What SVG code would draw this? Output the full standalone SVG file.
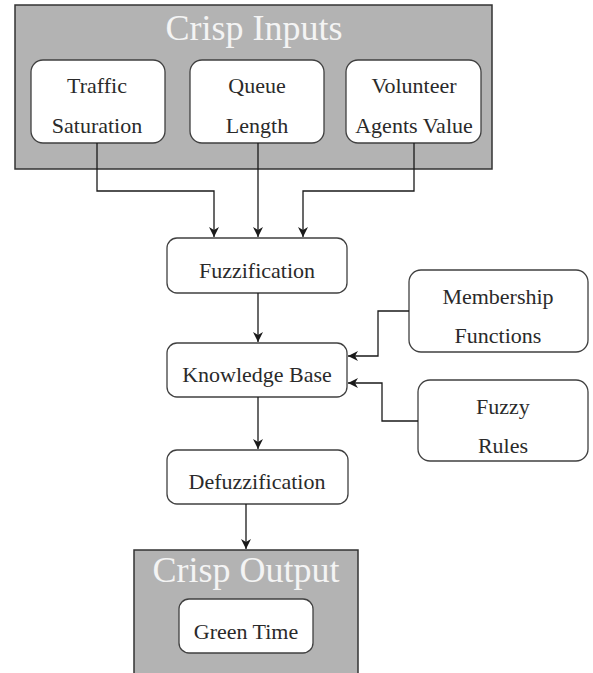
<svg xmlns="http://www.w3.org/2000/svg" width="593" height="673" viewBox="0 0 593 673">
<defs>
<style>
.bg{fill:#ffffff}
.cont{fill:#b3b3b3;stroke:#333333;stroke-width:1.5}
.box{fill:#ffffff;stroke:#404040;stroke-width:1.3}
.t{font-family:'Liberation Serif','DejaVu Serif',serif;font-size:22px;fill:#2a2a2a;text-anchor:middle}
.title{font-family:'Liberation Serif','DejaVu Serif',serif;font-size:36px;fill:#f4f4f4;text-anchor:middle}
.c{fill:none;stroke:#1a1a1a;stroke-width:1.3}
</style>
<marker id="arr" viewBox="0 0 10 10" refX="10" refY="5" markerWidth="10" markerHeight="10" markerUnits="userSpaceOnUse" orient="auto">
<path d="M0,0 L10,5 L0,10 L3,5 Z" fill="#1a1a1a"/>
</marker>
</defs>
<rect class="bg" x="0" y="0" width="593" height="673"/>
<g id="crisp-inputs">
<rect class="cont" x="15" y="5" width="477" height="164"/>
<text class="title" x="254" y="40">Crisp Inputs</text>
</g>
<g id="traffic-saturation">
<rect class="box" x="31" y="60" width="134" height="83" rx="12"/>
<text class="t" x="97" y="93">Traffic</text>
<text class="t" x="97" y="133">Saturation</text>
</g>
<g id="queue-length">
<rect class="box" x="190" y="60" width="134" height="83" rx="12"/>
<text class="t" x="257" y="93">Queue</text>
<text class="t" x="257" y="133">Length</text>
</g>
<g id="volunteer-agents">
<rect class="box" x="346" y="60" width="135" height="83" rx="12"/>
<text class="t" x="414" y="93">Volunteer</text>
<text class="t" x="414" y="133">Agents Value</text>
</g>
<g id="fuzzification">
<rect class="box" x="167" y="238" width="180" height="55" rx="10"/>
<text class="t" x="257" y="278">Fuzzification</text>
</g>
<g id="knowledge-base">
<rect class="box" x="167" y="343" width="180" height="54" rx="10"/>
<text class="t" x="257" y="382">Knowledge Base</text>
</g>
<g id="membership-functions">
<rect class="box" x="409" y="270" width="179" height="82" rx="12"/>
<text class="t" x="498" y="304">Membership</text>
<text class="t" x="498" y="343">Functions</text>
</g>
<g id="fuzzy-rules">
<rect class="box" x="418" y="380" width="170" height="81" rx="12"/>
<text class="t" x="503" y="414">Fuzzy</text>
<text class="t" x="503" y="453">Rules</text>
</g>
<g id="defuzzification">
<rect class="box" x="167" y="450" width="181" height="54" rx="10"/>
<text class="t" x="257" y="489">Defuzzification</text>
</g>
<g id="crisp-output">
<rect class="cont" x="134" y="550" width="224" height="130"/>
<text class="title" x="246" y="582">Crisp Output</text>
</g>
<g id="green-time">
<rect class="box" x="179" y="599" width="134" height="54" rx="10"/>
<text class="t" x="246" y="639">Green Time</text>
</g>
<g id="connectors">
<path class="c" d="M97,143 V191 H214 V237" marker-end="url(#arr)"/>
<path class="c" d="M258,143 V237" marker-end="url(#arr)"/>
<path class="c" d="M414,143 V191 H303 V237" marker-end="url(#arr)"/>
<path class="c" d="M258,293 V342" marker-end="url(#arr)"/>
<path class="c" d="M409,311 H378 V356 H348" marker-end="url(#arr)"/>
<path class="c" d="M418,421 H382 V383 H348" marker-end="url(#arr)"/>
<path class="c" d="M258,397 V449" marker-end="url(#arr)"/>
<path class="c" d="M246,504 V549" marker-end="url(#arr)"/>
</g>
</svg>
